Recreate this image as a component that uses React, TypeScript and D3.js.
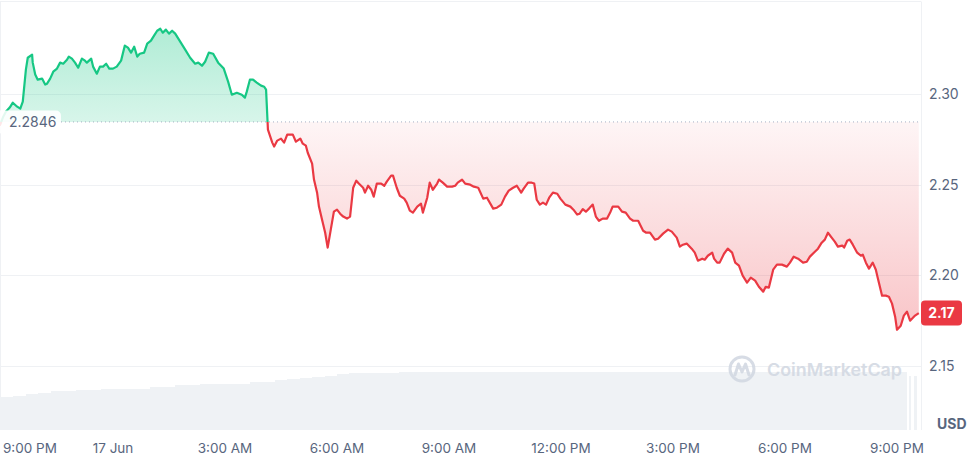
import React from "react";
import * as d3 from "d3";

const W = 973;
const H = 457;

// Time origin: 16 Jun, 9:00 PM (minutes are counted from here)
const START = new Date(2024, 5, 16, 21, 0, 0);

// [minutes since 9:00 PM, price in USD]
const priceSeries: [number, number][] = [
  [-2, 2.2825], [3, 2.287], [8, 2.2903], [14, 2.2925], [19, 2.2952], [26, 2.293], [31, 2.2919],
  [35, 2.2958], [40, 2.3134], [43, 2.32], [50, 2.3217], [51, 2.3173], [55, 2.3107], [59, 2.3079],
  [66, 2.3085], [71, 2.3052], [74, 2.3057], [79, 2.3085], [84, 2.3123], [90, 2.314], [95, 2.3173],
  [100, 2.3167], [106, 2.3189], [109, 2.3206], [114, 2.3195], [119, 2.3173], [124, 2.3145],
  [130, 2.3195], [135, 2.3184], [138, 2.3173], [145, 2.3195], [148, 2.3151], [154, 2.3112],
  [159, 2.3151], [164, 2.3151], [169, 2.3167], [174, 2.314], [180, 2.314], [186, 2.3151],
  [193, 2.3184], [199, 2.3267], [204, 2.3256], [209, 2.3228], [214, 2.3261], [219, 2.3206],
  [223, 2.3222], [230, 2.3228], [235, 2.3278], [241, 2.3294], [246, 2.3322], [251, 2.3349],
  [256, 2.336], [260, 2.3338], [265, 2.3355], [270, 2.3333], [275, 2.3349], [280, 2.3333],
  [284, 2.3311], [288, 2.3289], [296, 2.3245], [304, 2.32], [312, 2.3167], [317, 2.3173],
  [323, 2.3156], [328, 2.3178], [334, 2.3228], [341, 2.3222], [349, 2.3173], [358, 2.314],
  [365, 2.3068], [371, 2.2996], [379, 2.3007], [387, 2.2996], [392, 2.298], [395, 2.3013],
  [400, 2.3079], [405, 2.3079], [411, 2.3063], [418, 2.3046], [423, 2.304], [426, 2.3024],
  [429, 2.2803], [436, 2.2732], [439, 2.271], [444, 2.2743], [450, 2.2754], [455, 2.2732],
  [460, 2.2776], [469, 2.2776], [474, 2.2737], [481, 2.2754], [485, 2.2726], [490, 2.2715],
  [493, 2.2676], [500, 2.2616], [503, 2.2528], [508, 2.2456], [511, 2.2379], [516, 2.2307],
  [521, 2.2235], [525, 2.2153], [530, 2.2252], [535, 2.2351], [540, 2.2362], [545, 2.234],
  [550, 2.2324], [556, 2.2313], [561, 2.2324], [566, 2.2483], [571, 2.2522], [575, 2.2506],
  [582, 2.2483], [585, 2.2456], [590, 2.2494], [595, 2.2472], [599, 2.2434], [604, 2.2506],
  [611, 2.2506], [616, 2.2494], [620, 2.2517], [627, 2.255], [630, 2.255], [636, 2.2483],
  [641, 2.2439], [648, 2.2423], [652, 2.2401], [657, 2.2357], [662, 2.2346], [669, 2.2379],
  [675, 2.2395], [678, 2.2346], [685, 2.2428], [689, 2.2511], [694, 2.2472], [701, 2.2506],
  [704, 2.2528], [710, 2.2511], [717, 2.2489], [725, 2.2489], [730, 2.2494], [734, 2.2511],
  [741, 2.2528], [746, 2.2506], [754, 2.25], [760, 2.2489], [767, 2.2483], [775, 2.2423],
  [781, 2.2428], [791, 2.2368], [797, 2.2373], [804, 2.239], [810, 2.2434], [816, 2.2467],
  [823, 2.2483], [829, 2.2494], [836, 2.2456], [840, 2.2478], [847, 2.2511], [853, 2.2511],
  [857, 2.2506], [861, 2.2417], [866, 2.239], [871, 2.2401], [876, 2.239], [881, 2.2428],
  [887, 2.2456], [894, 2.245], [899, 2.2423], [907, 2.239], [915, 2.2379], [920, 2.2362],
  [926, 2.2335], [930, 2.234], [935, 2.2365], [940, 2.2351], [945, 2.2368], [951, 2.239],
  [956, 2.2324], [961, 2.2301], [967, 2.2313], [974, 2.2313], [979, 2.2346], [983, 2.2379],
  [992, 2.2379], [998, 2.2351], [1004, 2.2346], [1011, 2.2313], [1016, 2.2301], [1024, 2.2301],
  [1032, 2.2246], [1037, 2.2235], [1043, 2.2235], [1051, 2.2197], [1056, 2.2202], [1064, 2.223],
  [1072, 2.2252], [1078, 2.2241], [1086, 2.2208], [1091, 2.2158], [1096, 2.2169], [1102, 2.2175],
  [1110, 2.2147], [1115, 2.2125], [1120, 2.2081], [1127, 2.2092], [1131, 2.2086], [1136, 2.2108],
  [1143, 2.2125], [1146, 2.2092], [1151, 2.207], [1155, 2.207], [1162, 2.2119], [1168, 2.2147],
  [1175, 2.2125], [1180, 2.207], [1186, 2.2053], [1192, 2.1998], [1199, 2.196], [1205, 2.1987],
  [1212, 2.1971], [1218, 2.1937], [1225, 2.191], [1229, 2.1937], [1234, 2.1932], [1241, 2.2031],
  [1247, 2.2059], [1255, 2.2059], [1263, 2.2048], [1268, 2.207], [1274, 2.2103], [1281, 2.2092],
  [1289, 2.207], [1295, 2.2075], [1300, 2.2103], [1308, 2.213], [1313, 2.2147], [1319, 2.218],
  [1324, 2.2197], [1329, 2.2235], [1335, 2.2208], [1340, 2.2186], [1345, 2.2158], [1352, 2.2164],
  [1355, 2.2153], [1360, 2.2191], [1364, 2.2197], [1369, 2.2169], [1376, 2.2125], [1382, 2.2108],
  [1385, 2.2114], [1390, 2.207], [1395, 2.2037], [1401, 2.207], [1406, 2.2031], [1409, 2.1987],
  [1416, 2.1888], [1422, 2.1888], [1427, 2.1882], [1432, 2.1844], [1437, 2.1772], [1440, 2.17],
  [1446, 2.1722], [1451, 2.1778], [1456, 2.18], [1461, 2.175], [1469, 2.1778], [1475, 2.1792],
];

// [minutes since 9:00 PM, volume (millions USD)]
const volumeSeries: [number, number][] = [
  [-2, 330], [20, 345], [40, 360], [60, 375], [80, 390], [120, 400], [160, 410], [200, 415],
  [240, 430], [280, 450], [320, 460], [360, 465], [400, 480], [440, 500], [460, 510], [480, 520],
  [500, 532], [520, 545], [540, 558], [560, 570], [600, 575], [640, 578], [680, 580], [720, 580],
  [760, 579], [800, 580], [840, 580], [880, 579], [920, 580], [960, 580], [1000, 579], [1040, 580],
  [1080, 580], [1120, 579], [1160, 580], [1200, 580], [1240, 579], [1280, 580], [1320, 580],
  [1360, 579], [1400, 580], [1440, 578], [1456, 0], [1460, 540], [1463, 0], [1468, 540], [1472, 0],
];
const volumeEnd = 1475;

const yTicks = [2.15, 2.2, 2.25, 2.3];
const openPrice = 2.2846;
const currency = "USD";
const watermark = "CoinMarketCap";

const GREEN = "#16c784";
const RED = "#ea3943";
const GRID = "#eff1f4";
const TEXT = "#58667e";
const FONT = "Inter, 'Noto Sans', sans-serif";

const toDate = (m: number) => new Date(START.getTime() + m * 60000);

export default function App() {
  const x = d3.scaleTime().domain([toDate(0), toDate(1440)]).range([1, 897]);
  const y = d3.scaleLinear().domain([2.15, 2.3]).range([366, 94]);
  const vy = d3.scaleLinear().domain([0, 580]).range([430, 372]);

  const pts = priceSeries.map(([m, v]) => ({ d: toDate(m), v }));
  const base = y(openPrice);
  const line = d3.line<{ d: Date; v: number }>().x((p) => x(p.d)).y((p) => y(p.v));
  const area = d3
    .area<{ d: Date; v: number }>()
    .x((p) => x(p.d))
    .y0(base)
    .y1((p) => y(p.v));
  const linePath = line(pts) || "";
  const areaPath = area(pts) || "";

  const last = priceSeries[priceSeries.length - 1][1];
  const lastY = y(last);
  const lastLabel = (Math.floor(last * 100) / 100).toFixed(2);

  const xTicks = x.ticks(d3.timeHour.every(3) as any);
  const fmtTick = (d: Date) =>
    d.getHours() === 0 ? d3.timeFormat("%-d %b")(d) : d3.timeFormat("%-I:%M %p")(d);

  const plotRight = 921;

  const volBars = volumeSeries.map(([m, v], i) => {
    const next = i < volumeSeries.length - 1 ? volumeSeries[i + 1][0] : volumeEnd;
    const x0 = Math.max(0, x(toDate(m)));
    const x1 = x(toDate(next));
    return { x0, x1, v };
  });

  return (
    <svg
      width={W}
      height={H}
      style={{ position: "absolute", left: 0, top: 0, background: "#fff" }}
      fontFamily={FONT}
    >
      <defs>
        <clipPath id="above">
          <rect x={-5} y={0} width={plotRight + 5} height={base} />
        </clipPath>
        <clipPath id="below">
          <rect x={-5} y={base} width={plotRight + 5} height={H - base} />
        </clipPath>
        <linearGradient id="gGreen" gradientUnits="userSpaceOnUse" x1={0} y1={28} x2={0} y2={base}>
          <stop offset="0" stopColor={GREEN} stopOpacity={0.34} />
          <stop offset="1" stopColor={GREEN} stopOpacity={0.17} />
        </linearGradient>
        <linearGradient id="gRed" gradientUnits="userSpaceOnUse" x1={0} y1={base} x2={0} y2={335}>
          <stop offset="0" stopColor={RED} stopOpacity={0.05} />
          <stop offset="1" stopColor={RED} stopOpacity={0.3} />
        </linearGradient>
      </defs>

      {/* frame */}
      <line x1={0} x2={plotRight} y1={1.5} y2={1.5} stroke={GRID} />
      <line x1={0.5} x2={0.5} y1={1.5} y2={430} stroke={GRID} />
      <line x1={plotRight + 0.5} x2={plotRight + 0.5} y1={1.5} y2={430} stroke={GRID} />

      {/* volume */}
      {volBars
        .filter((b) => b.v > 0)
        .map((b, i) => (
          <rect
            key={i}
            x={b.x0}
            y={vy(b.v)}
            width={Math.max(0.8, b.x1 - b.x0)}
            height={430 - vy(b.v)}
            fill="#eff2f5"
            shapeRendering="crispEdges"
          />
        ))}

      {/* grid */}
      {yTicks.map((t) => (
        <line key={t} x1={0} x2={plotRight} y1={Math.round(y(t)) + 0.5} y2={Math.round(y(t)) + 0.5} stroke={GRID} />
      ))}

      {/* watermark */}
      <g opacity={0.9}>
        <circle cx={742} cy={369} r={12} fill="none" stroke="#d3d9e3" strokeWidth={3} />
        <path
          d="M735 375 L738.5 364 L742 372 L745.5 364 L749 375"
          fill="none"
          stroke="#d3d9e3"
          strokeWidth={3}
          strokeLinejoin="round"
          strokeLinecap="round"
        />
        <text x={767} y={376} fontSize={17.5} fontWeight={600} fill="#d3d9e3" textLength={135} lengthAdjust="spacingAndGlyphs">
          {watermark}
        </text>
      </g>

      {/* areas */}
      <path d={areaPath} fill="url(#gGreen)" clipPath="url(#above)" />
      <path d={areaPath} fill="url(#gRed)" clipPath="url(#below)" />

      {/* baseline */}
      <line x1={61} x2={plotRight} y1={base} y2={base} stroke="#a6b0c3" strokeWidth={1} strokeDasharray="1,3" />

      {/* lines */}
      <path d={linePath} fill="none" stroke={GREEN} strokeWidth={2.2} strokeLinejoin="round" clipPath="url(#above)" />
      <path d={linePath} fill="none" stroke={RED} strokeWidth={2.2} strokeLinejoin="round" clipPath="url(#below)" />

      {/* open price label */}
      <rect x={-4} y={base - 11.5} width={65} height={23} rx={5} fill="#ffffff" fillOpacity={0.88} />
      <text x={9} y={base} dy="0.35em" fontSize={14} fill={TEXT}>
        {openPrice.toFixed(4)}
      </text>

      {/* y axis labels */}
      {yTicks.map((t) => (
        <text key={t} x={929} y={y(t)} dy="0.35em" fontSize={14} fill={TEXT}>
          {t.toFixed(2)}
        </text>
      ))}

      {/* current price tag */}
      <rect x={921} y={lastY - 12.5} width={41} height={25} rx={4} fill={RED} />
      <text x={941.5} y={lastY} dy="0.35em" textAnchor="middle" fontSize={14} fontWeight={700} fill="#fff">
        {lastLabel}
      </text>

      <text x={937} y={429} fontSize={14} fontWeight={700} fill={TEXT}>
        {currency}
      </text>

      {/* x axis labels */}
      {xTicks.map((d, i) => {
        const px = x(d);
        const first = i === 0;
        return (
          <text
            key={i}
            x={first ? 3 : px}
            y={453}
            fontSize={13.5}
            fill={TEXT}
            textAnchor={first ? "start" : "middle"}
          >
            {fmtTick(d)}
          </text>
        );
      })}
    </svg>
  );
}
